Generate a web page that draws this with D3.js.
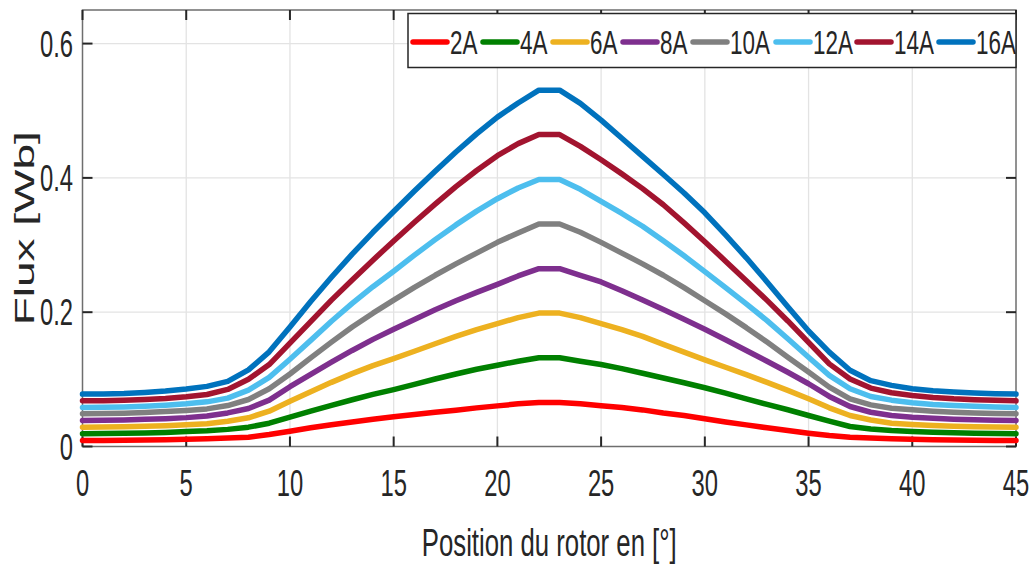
<!DOCTYPE html>
<html>
<head>
<meta charset="utf-8">
<script src="https://cdn.jsdelivr.net/npm/d3@7/dist/d3.min.js"></script>
<style>
  html, body { margin: 0; padding: 0; background: #fff; }
  svg { display: block; }
  text { font-family: "Liberation Sans", Arial, Helvetica, sans-serif; fill: #262626; }
</style>
</head>
<body>
<svg id="chart" width="1035" height="567"></svg>
<script>
// Rotor position in degrees (one sample per degree)
const positions = d3.range(0, 46);

// Flux linkage [Wb] for each phase current
const flux2A = [0.0089,0.0090,0.0092,0.0095,0.0100,0.0107,0.0115,0.0125,0.0139,0.0179,0.0228,0.0278,0.0323,0.0365,0.0405,0.0443,0.0478,0.0510,0.0540,0.0575,0.0605,0.0635,0.0656,0.0656,0.0636,0.0608,0.0580,0.0545,0.0500,0.0462,0.0413,0.0365,0.0322,0.0278,0.0238,0.0198,0.0164,0.0139,0.0125,0.0115,0.0107,0.0101,0.0097,0.0094,0.0090,0.0089];
const flux4A = [0.0190,0.0192,0.0196,0.0200,0.0208,0.0222,0.0235,0.0255,0.0288,0.0347,0.0437,0.0526,0.0611,0.0696,0.0775,0.0848,0.0925,0.1005,0.1080,0.1150,0.1210,0.1270,0.1322,0.1322,0.1270,0.1220,0.1160,0.1090,0.1020,0.0950,0.0875,0.0794,0.0710,0.0626,0.0547,0.0462,0.0377,0.0298,0.0262,0.0238,0.0224,0.0214,0.0204,0.0199,0.0194,0.0190];
const flux6A = [0.0288,0.0290,0.0295,0.0300,0.0310,0.0323,0.0340,0.0375,0.0428,0.0526,0.0675,0.0815,0.0955,0.1085,0.1205,0.1310,0.1418,0.1530,0.1640,0.1740,0.1830,0.1920,0.1987,0.1987,0.1920,0.1830,0.1740,0.1640,0.1520,0.1405,0.1290,0.1180,0.1070,0.0955,0.0835,0.0710,0.0576,0.0462,0.0395,0.0347,0.0328,0.0313,0.0303,0.0295,0.0290,0.0288];
const flux8A = [0.0387,0.0390,0.0395,0.0405,0.0415,0.0430,0.0455,0.0500,0.0565,0.0690,0.0890,0.1075,0.1255,0.1430,0.1595,0.1745,0.1890,0.2035,0.2170,0.2295,0.2415,0.2540,0.2648,0.2648,0.2550,0.2450,0.2320,0.2180,0.2040,0.1895,0.1745,0.1590,0.1430,0.1270,0.1105,0.0934,0.0745,0.0596,0.0510,0.0462,0.0437,0.0422,0.0407,0.0398,0.0392,0.0387];
const flux10A = [0.0487,0.0490,0.0495,0.0505,0.0520,0.0537,0.0560,0.0610,0.0700,0.0860,0.1080,0.1320,0.1555,0.1780,0.1985,0.2180,0.2370,0.2550,0.2720,0.2880,0.3040,0.3180,0.3313,0.3313,0.3190,0.3040,0.2880,0.2720,0.2550,0.2365,0.2170,0.1975,0.1770,0.1555,0.1330,0.1108,0.0884,0.0710,0.0620,0.0570,0.0547,0.0526,0.0511,0.0500,0.0492,0.0487];
const flux12A = [0.0580,0.0583,0.0590,0.0600,0.0615,0.0635,0.0665,0.0720,0.0840,0.1030,0.1300,0.1580,0.1865,0.2130,0.2380,0.2610,0.2850,0.3080,0.3300,0.3505,0.3690,0.3850,0.3975,0.3975,0.3830,0.3650,0.3470,0.3280,0.3065,0.2840,0.2605,0.2365,0.2125,0.1875,0.1605,0.1330,0.1060,0.0860,0.0745,0.0690,0.0650,0.0626,0.0610,0.0598,0.0588,0.0580];
const flux14A = [0.0680,0.0683,0.0690,0.0700,0.0715,0.0740,0.0775,0.0850,0.1000,0.1220,0.1540,0.1860,0.2180,0.2480,0.2775,0.3060,0.3340,0.3610,0.3870,0.4110,0.4330,0.4510,0.4645,0.4645,0.4470,0.4270,0.4060,0.3840,0.3600,0.3330,0.3050,0.2760,0.2470,0.2176,0.1870,0.1550,0.1230,0.1005,0.0870,0.0800,0.0760,0.0730,0.0710,0.0697,0.0687,0.0680];
const flux16A = [0.0780,0.0783,0.0790,0.0805,0.0825,0.0855,0.0895,0.0970,0.1140,0.1410,0.1780,0.2160,0.2520,0.2865,0.3190,0.3500,0.3805,0.4100,0.4385,0.4655,0.4905,0.5115,0.5306,0.5306,0.5110,0.4860,0.4590,0.4320,0.4050,0.3775,0.3480,0.3150,0.2810,0.2450,0.2080,0.1720,0.1405,0.1135,0.0980,0.0910,0.0860,0.0830,0.0810,0.0795,0.0785,0.0780];

const seriesNames = ["2A", "4A", "6A", "8A", "10A", "12A", "14A", "16A"];
const seriesValues = [flux2A, flux4A, flux6A, flux8A, flux10A, flux12A, flux14A, flux16A];
const seriesColors = ["#FF0000", "#008000", "#EDB120", "#7E2F8E", "#808080", "#4DBEEE", "#A2142F", "#0072BD"];

const xTicks = [0, 5, 10, 15, 20, 25, 30, 35, 40, 45];
const yTicks = [0, 0.2, 0.4, 0.6];
const yTickLabels = ["0", "0.2", "0.4", "0.6"];

const xTitle = "Position du rotor en [°]";
const yTitle = "Flux [Wb]";

// Glyph width factor: text is set narrow, as in the exported figure
const squeeze = 0.66;

const plot = { left: 82.5, right: 1016, top: 10, bottom: 446.5 };

const svg = d3.select("#chart");
const x = d3.scaleLinear().domain([0, 45]).range([plot.left, plot.right]);
const y = d3.scaleLinear().domain([0, 0.65]).range([plot.bottom, plot.top]);

// Grid
const grid = svg.append("g").attr("stroke", "#e3e3e3").attr("stroke-width", 1.3);
xTicks.slice(1, -1).forEach(v => {
  grid.append("line").attr("x1", x(v)).attr("x2", x(v)).attr("y1", plot.top).attr("y2", plot.bottom);
});
yTicks.slice(1).forEach(v => {
  grid.append("line").attr("x1", plot.left).attr("x2", plot.right).attr("y1", y(v)).attr("y2", y(v));
});

// Axes box
svg.append("rect")
  .attr("x", plot.left).attr("y", plot.top)
  .attr("width", plot.right - plot.left).attr("height", plot.bottom - plot.top)
  .attr("fill", "none").attr("stroke", "#6e6e6e").attr("stroke-width", 1.5);

// Inward ticks on all four sides
const tickLen = 10;
const ticks = svg.append("g").attr("stroke", "#262626").attr("stroke-width", 2);
xTicks.forEach(v => {
  ticks.append("line").attr("x1", x(v)).attr("x2", x(v)).attr("y1", plot.bottom).attr("y2", plot.bottom - tickLen);
  ticks.append("line").attr("x1", x(v)).attr("x2", x(v)).attr("y1", plot.top).attr("y2", plot.top + tickLen);
});
yTicks.forEach(v => {
  ticks.append("line").attr("x1", plot.left).attr("x2", plot.left + tickLen).attr("y1", y(v)).attr("y2", y(v));
  ticks.append("line").attr("x1", plot.right).attr("x2", plot.right - tickLen).attr("y1", y(v)).attr("y2", y(v));
});

// Curves
const line = d3.line()
  .x((d, i) => x(positions[i]))
  .y(d => y(d));

svg.append("g").selectAll("path")
  .data(seriesValues)
  .join("path")
  .attr("d", line)
  .attr("fill", "none")
  .attr("stroke", (d, i) => seriesColors[i])
  .attr("stroke-width", 5.5)
  .attr("stroke-linejoin", "round")
  .attr("stroke-linecap", "round");

// Tick labels
const tickFont = 36;
svg.append("g").selectAll("text")
  .data(xTicks)
  .join("text")
  .attr("transform", d => `translate(${x(d)},${496}) scale(${squeeze},1)`)
  .attr("text-anchor", "middle")
  .attr("font-size", tickFont)
  .text(d => String(d));

svg.append("g").selectAll("text")
  .data(yTicks)
  .join("text")
  .attr("transform", d => `translate(${73},${y(d) + 13}) scale(${squeeze},1)`)
  .attr("text-anchor", "end")
  .attr("font-size", tickFont)
  .text((d, i) => yTickLabels[i]);

// Axis titles
svg.append("text")
  .attr("transform", `translate(${(plot.left + plot.right) / 2},${556}) scale(${squeeze},1)`)
  .attr("text-anchor", "middle")
  .attr("font-size", 39)
  .text(xTitle);

svg.append("text")
  .attr("transform", `translate(${34},${(plot.top + plot.bottom) / 2}) rotate(-90) scale(1,${0.62})`)
  .attr("text-anchor", "middle")
  .attr("font-size", 46)
  .text(yTitle);

// Legend
const legend = svg.append("g");
legend.append("rect")
  .attr("x", 408).attr("y", 13.5).attr("width", 608).attr("height", 54)
  .attr("fill", "#fff").attr("stroke", "#262626").attr("stroke-width", 1.5);

const legendItemX = [411, 481, 551, 621, 691, 774, 855, 937];
const legendY = 42;
const items = legend.selectAll("g.item")
  .data(seriesNames)
  .join("g")
  .attr("class", "item")
  .attr("transform", (d, i) => `translate(${legendItemX[i]},${legendY})`);

items.append("line")
  .attr("x1", 2).attr("x2", 36).attr("y1", 0).attr("y2", 0)
  .attr("stroke", (d, i) => seriesColors[i])
  .attr("stroke-width", 5.5)
  .attr("stroke-linecap", "round");

items.append("text")
  .attr("transform", `translate(${39},${12}) scale(${squeeze},1)`)
  .attr("font-size", 34)
  .attr("fill", "#000")
  .text(d => d);
</script>
</body>
</html>
